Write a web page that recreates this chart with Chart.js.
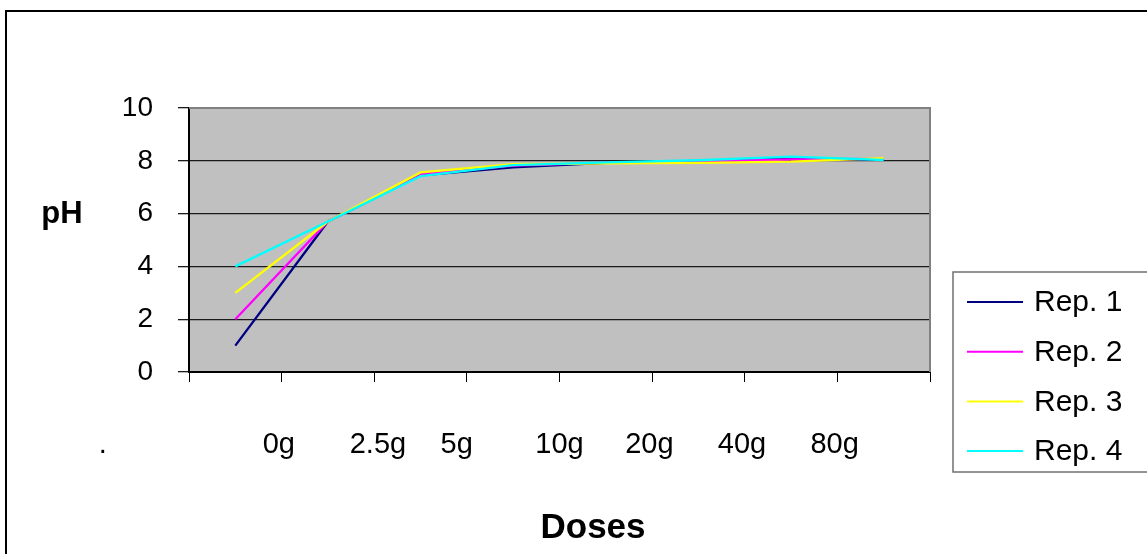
<!DOCTYPE html>
<html>
<head>
<meta charset="utf-8">
<script src="https://cdn.jsdelivr.net/npm/chart.js@4"></script>
<style>
    html, body { margin: 0; padding: 0; background: #fff; }
    #wrap { width: 1147px; height: 554px; position: relative; }
</style>
</head>
<body>
<div id="wrap"><canvas id="chart"></canvas></div>
<script>
    // categories (doses) and pH readings per replicate
    const DOSES = [".", "0g", "2.5g", "5g", "10g", "20g", "40g", "80g"];
    const REP_1 = [1.0, 5.7, 7.45, 7.75, 7.92, 8.0, 8.08, 8.05];
    const REP_2 = [2.0, 5.7, 7.5, 7.82, 7.93, 7.98, 8.05, 8.07];
    const REP_3 = [3.0, 5.7, 7.56, 7.87, 7.9, 7.92, 7.97, 8.1];
    const REP_4 = [4.0, 5.7, 7.42, 7.84, 7.94, 8.02, 8.16, 8.03];
    const Y_TICKS = [0, 2, 4, 6, 8, 10];

    // the dose labels sit off-centre in the original; offsets in category units
    const LABEL_SHIFT = [-1.43, 0.47, 1.54, 2.39, 3.5, 4.47, 5.47, 6.47];

    const FONT = "'Liberation Sans', Arial, sans-serif";

    function rep(label, data, color, order) {
        return {
            label,
            data,
            borderColor: color,
            backgroundColor: color,
            borderWidth: 2.3,
            pointRadius: 0,
            tension: 0,
            order
        };
    }

    const decor = {
        id: "decor",
        beforeDraw(chart) {
            const { ctx, chartArea: a } = chart;
            ctx.save();
            ctx.fillStyle = "#c0c0c0";
            ctx.fillRect(a.left, a.top, a.right - a.left, a.bottom - a.top);
            ctx.restore();
        },
        afterDraw(chart) {
            const { ctx, chartArea: a, scales } = chart;
            ctx.save();
            // plot frame top/right
            ctx.strokeStyle = "#808080";
            ctx.lineWidth = 2;
            ctx.beginPath();
            ctx.moveTo(a.left, a.top);
            ctx.lineTo(a.right, a.top);
            ctx.lineTo(a.right, a.bottom);
            ctx.stroke();

            // outer chart frame
            ctx.strokeStyle = "#000";
            ctx.beginPath();
            ctx.moveTo(6, chart.height);
            ctx.lineTo(6, 11);
            ctx.lineTo(chart.width, 11);
            ctx.stroke();

            // dose labels
            const x = scales.x;
            const step = x.getPixelForValue(1) - x.getPixelForValue(0);
            ctx.fillStyle = "#000";
            ctx.font = "29px " + FONT;
            ctx.textAlign = "center";
            ctx.textBaseline = "alphabetic";
            DOSES.forEach((d, i) => {
                ctx.fillText(d, x.getPixelForValue(0) + LABEL_SHIFT[i] * step, a.bottom + 81);
            });

            // axis titles
            ctx.font = "bold 35px " + FONT;
            ctx.fillText("Doses", 593, a.bottom + 166);
            ctx.font = "bold 31px " + FONT;
            ctx.fillText("pH", 62, 223);

            // legend
            const lx = 953, ly = 272, lh = 200;
            ctx.strokeStyle = "#707070";
            ctx.lineWidth = 1.5;
            ctx.strokeRect(lx, ly, chart.width - lx + 5, lh);
            ctx.font = "30px " + FONT;
            ctx.textAlign = "left";
            ctx.textBaseline = "middle";
            chart.data.datasets.forEach((ds, i) => {
                const yy = ly + 30 + i * 49.7;
                ctx.strokeStyle = ds.borderColor;
                ctx.lineWidth = 2;
                ctx.beginPath();
                ctx.moveTo(lx + 14, yy);
                ctx.lineTo(lx + 70, yy);
                ctx.stroke();
                ctx.fillText(ds.label, lx + 81, yy + 1);
            });
            ctx.restore();
        }
    };

    new Chart(document.getElementById("chart"), {
        type: "line",
        data: {
            labels: DOSES,
            datasets: [
                rep("Rep. 1", REP_1, "#000080", 4),
                rep("Rep. 2", REP_2, "#ff00ff", 3),
                rep("Rep. 3", REP_3, "#ffff00", 2),
                rep("Rep. 4", REP_4, "#00ffff", 1)
            ]
        },
        options: {
            responsive: true,
            maintainAspectRatio: false,
            animation: false,
            layout: {
                padding: { left: 0, top: 108, right: 217, bottom: 162 }
            },
            plugins: {
                legend: { display: false },
                tooltip: { enabled: false }
            },
            scales: {
                x: {
                    type: "category",
                    offset: true,
                    grid: {
                        offset: true,
                        drawOnChartArea: false,
                        drawTicks: true,
                        tickLength: 10,
                        color: "#000",
                        lineWidth: 1
                    },
                    border: { color: "#000", width: 2 },
                    ticks: { display: false },
                    afterFit: s => { s.height = 20; }
                },
                y: {
                    min: 0,
                    max: 10,
                    afterBuildTicks: s => { s.ticks = Y_TICKS.map(v => ({ value: v })); },
                    grid: {
                        color: "#1a1a1a",
                        lineWidth: 1.3,
                        tickLength: 11
                    },
                    border: { color: "#000", width: 2 },
                    ticks: {
                        color: "#000",
                        padding: 25,
                        font: { family: FONT, size: 28 }
                    },
                    afterFit: s => { s.width = 189; }
                }
            }
        },
        plugins: [decor]
    });
</script>
</body>
</html>
